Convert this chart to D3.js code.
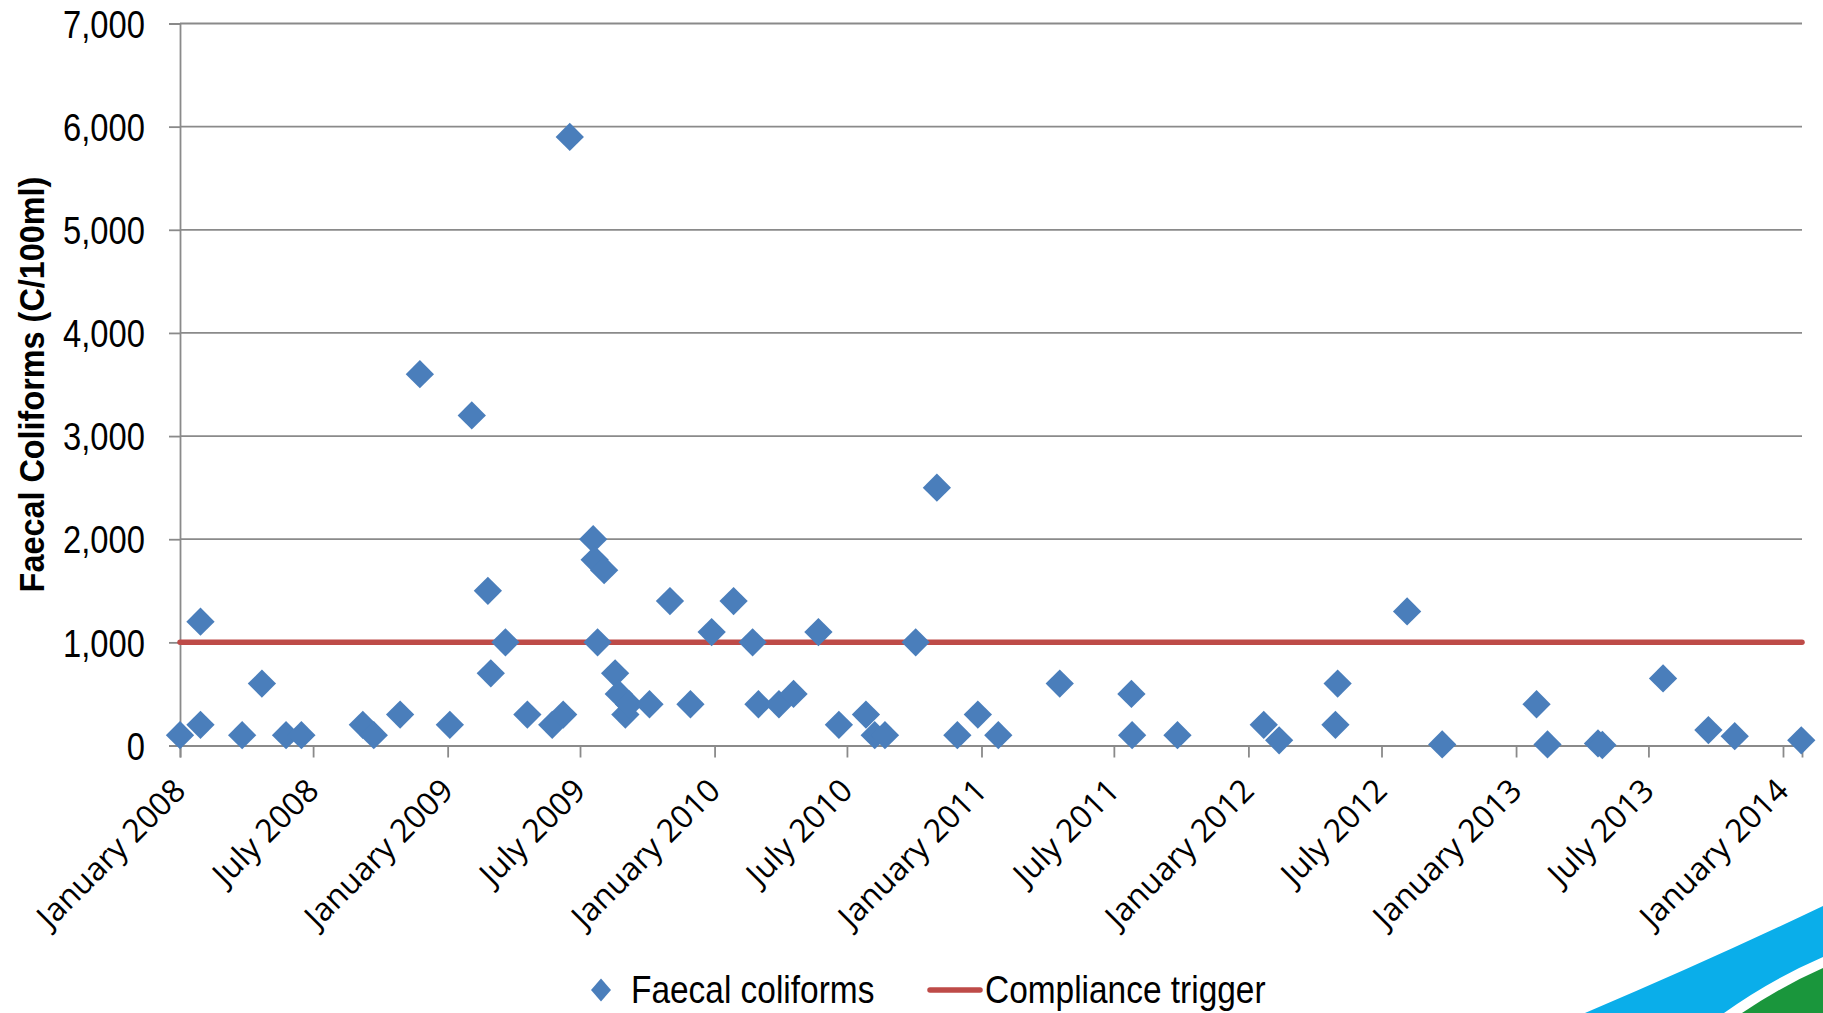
<!DOCTYPE html>
<html>
<head>
<meta charset="utf-8">
<script src="https://cdn.jsdelivr.net/npm/d3@7"></script>
<style>
  html, body { margin: 0; padding: 0; background: #ffffff; }
  svg { display: block; }
</style>
</head>
<body>
<svg id="chart" width="1823" height="1013"></svg>
<script>
// ---------------- DATA ----------------
const sampleDates = [
  "2008-01-01","2008-01-29","2008-01-29","2008-03-26","2008-04-22","2008-05-25","2008-06-15",
  "2008-09-07","2008-09-22","2008-10-28","2008-11-24","2009-01-04","2009-02-03","2009-02-25",
  "2009-03-01","2009-03-21","2009-04-20","2009-05-24","2009-06-08","2009-06-17","2009-07-19",
  "2009-07-21","2009-08-03","2009-07-25","2009-08-18","2009-08-23","2009-09-01","2009-09-06",
  "2009-10-04","2009-11-01","2009-11-29","2009-12-28","2010-01-27","2010-02-22","2010-03-02",
  "2010-03-30","2010-04-19","2010-05-23","2010-06-20","2010-07-27","2010-08-08","2010-08-22",
  "2010-10-03","2010-11-01","2010-11-29","2010-12-27","2011-01-24","2011-04-18","2011-07-25",
  "2011-07-26","2011-09-26","2012-01-22","2012-02-12","2012-05-02","2012-04-29","2012-08-05",
  "2012-09-22","2013-01-29","2013-02-13","2013-04-23","2013-04-29","2013-07-21","2013-09-21",
  "2013-10-27","2014-01-26"
];
const faecalColiforms = [
  100,1200,200,100,600,100,100,
  200,100,300,3600,200,3200,1500,
  700,1000,300,200,300,5900,2000,
  1800,1700,1000,700,500,300,400,
  400,1400,400,1100,1400,1000,400,
  400,500,1100,200,300,100,100,
  1000,2500,100,300,100,600,500,
  100,100,200,50,600,200,1300,
  10,400,10,20,5,650,150,
  90,50
];
const complianceDates = ["2008-01-01","2014-01-27"];
const complianceValues = [1000, 1000];
const xDomain = ["2008-01-01","2014-01-27"];
const xTickDates = ["2008-01-01","2008-07-01","2009-01-01","2009-07-01","2010-01-01","2010-07-01",
  "2011-01-01","2011-07-01","2012-01-01","2012-07-01","2013-01-01","2013-07-01","2014-01-01"];
const yTicks = [0,1000,2000,3000,4000,5000,6000,7000];
const seriesNames = ["Faecal coliforms","Compliance trigger"];
const yTitle = "Faecal Coliforms (C/100ml)";

// ---------------- LAYOUT ----------------
const parse = d3.utcParse("%Y-%m-%d");
const fmtTick = d3.utcFormat("%B %Y");
const pLeft = 180, pRight = 1802, pTop = 23.5, pBottom = 745.5;
const BLUE = "#4A7EBB", RED = "#BE4B48", GRID = "#8a8a8a";
const sans = "'Liberation Sans',Arial,sans-serif";
const NARROW = 0.84, LEG_NARROW = 0.88;

const svg = d3.select("#chart");

// decorative swoosh (bottom-right corner)
svg.append("path").attr("fill", "#0AAEEA")
  .attr("d", "M1585,1013 Q1710,960 1823,906 L1823,957 Q1770,980 1724,1013 Z");
svg.append("path").attr("fill", "#1A963C")
  .attr("d", "M1742,1013 Q1782,986 1823,968 L1823,1013 Z");

const x = d3.scaleUtc().domain(xDomain.map(parse)).range([pLeft, pRight]);
const y = d3.scaleLinear().domain([0, 7000]).range([pBottom, pTop]);

// gridlines
svg.append("g").selectAll("line").data(yTicks.filter(d => d > 0)).join("line")
  .attr("x1", pLeft).attr("x2", pRight)
  .attr("y1", d => y(d)).attr("y2", d => y(d))
  .attr("stroke", GRID).attr("stroke-width", 1.8);

// y axis
const yAxis = svg.append("g").attr("transform", `translate(${pLeft},0)`)
  .call(d3.axisLeft(y).tickValues(yTicks).tickFormat(d3.format(",")).tickSize(11));
yAxis.select(".domain").attr("stroke", GRID).attr("stroke-width", 1.8);
yAxis.selectAll(".tick line").attr("stroke", GRID).attr("stroke-width", 1.8);
yAxis.selectAll(".tick text").attr("font-family", sans).attr("font-size", 39)
  .attr("fill", "#000").attr("x", 0).attr("dy", "0.35em")
  .attr("transform", `translate(-35,0) scale(${NARROW},1)`);

// x axis
const xAxis = svg.append("g").attr("transform", `translate(0,${pBottom})`)
  .call(d3.axisBottom(x).tickValues(xTickDates.map(parse)).tickFormat(fmtTick).tickSize(12));
xAxis.select(".domain").attr("stroke", GRID).attr("stroke-width", 1.8);
xAxis.selectAll(".tick line").attr("stroke", GRID).attr("stroke-width", 1.8);
xAxis.selectAll(".tick text")
  .attr("font-family", "'Open Sans',sans-serif").attr("font-size", 32).attr("fill", "#000")
  .attr("text-anchor", "end").attr("y", 0).attr("dy", 0)
  .attr("transform", "translate(7,47) rotate(-45)");

// y title
svg.append("text")
  .attr("transform", `translate(44,${(pTop + pBottom) / 2}) rotate(-90) scale(0.9,1)`)
  .attr("text-anchor", "middle")
  .attr("font-family", sans).attr("font-weight", "bold").attr("font-size", 36)
  .attr("fill", "#000").text(yTitle);

// compliance line
const line = d3.line().x(d => x(d.date)).y(d => y(d.value));
const compData = complianceDates.map((d, i) => ({date: parse(d), value: complianceValues[i]}));
svg.append("path").datum(compData).attr("d", line)
  .attr("fill", "none").attr("stroke", RED).attr("stroke-width", 5.5).attr("stroke-linecap", "round");

// diamonds
const pts = sampleDates.map((d, i) => ({date: parse(d), value: faecalColiforms[i]}));
const diamond = d3.symbol(d3.symbolSquare).size(400)();
svg.append("g").selectAll("path").data(pts).join("path")
  .attr("d", diamond)
  .attr("transform", d => `translate(${x(d.date)},${y(d.value)}) rotate(45)`)
  .attr("fill", BLUE);

// legend
const lg = svg.append("g");
lg.append("path").attr("d", d3.symbol(d3.symbolSquare).size(200)())
  .attr("transform", "translate(601,990) scale(1,1.15) rotate(45)").attr("fill", BLUE);
lg.append("text").attr("x", 0).attr("y", 0).attr("dy", "0.35em")
  .attr("transform", `translate(631,990) scale(${LEG_NARROW},1)`)
  .attr("font-family", sans).attr("font-size", 38).attr("fill", "#000").text(seriesNames[0]);
lg.append("line").attr("x1", 930).attr("x2", 980).attr("y1", 990).attr("y2", 990)
  .attr("stroke", RED).attr("stroke-width", 5.5).attr("stroke-linecap", "round");
lg.append("text").attr("x", 0).attr("y", 0).attr("dy", "0.35em")
  .attr("transform", `translate(985,990) scale(${LEG_NARROW},1)`)
  .attr("font-family", sans).attr("font-size", 38).attr("fill", "#000").text(seriesNames[1]);
</script>
</body>
</html>
